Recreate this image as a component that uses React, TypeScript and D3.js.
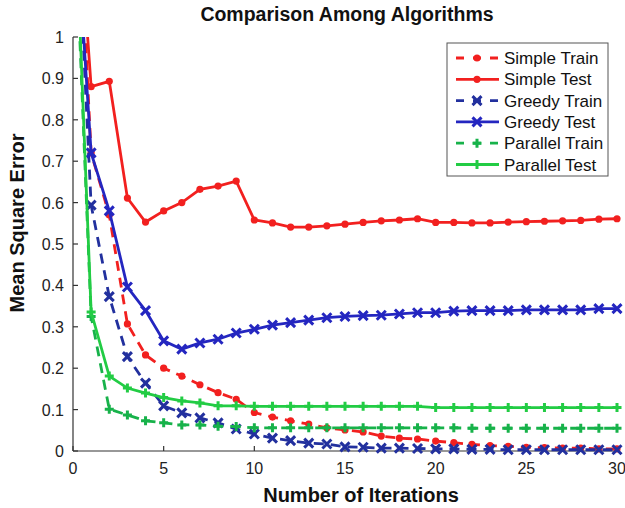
import React from 'react';
import * as d3 from 'd3';

// iterations 0..30
const iterations = d3.range(0, 31);

const simpleTrain = [1.6, 0.72, 0.57, 0.307, 0.232, 0.2, 0.181, 0.16, 0.141, 0.125, 0.093, 0.082, 0.073, 0.065, 0.056, 0.051, 0.046, 0.036, 0.031, 0.029, 0.024, 0.02, 0.016, 0.013, 0.011, 0.009, 0.008, 0.007, 0.007, 0.005, 0.005];
const simpleTest = [1.5, 0.88, 0.893, 0.611, 0.553, 0.58, 0.6, 0.632, 0.64, 0.652, 0.558, 0.551, 0.541, 0.541, 0.544, 0.548, 0.552, 0.556, 0.558, 0.561, 0.552, 0.552, 0.551, 0.551, 0.553, 0.554, 0.555, 0.556, 0.557, 0.56, 0.561];
const greedyTrain = [1.5, 0.594, 0.373, 0.228, 0.164, 0.109, 0.092, 0.08, 0.068, 0.053, 0.041, 0.031, 0.025, 0.019, 0.017, 0.01, 0.009, 0.007, 0.007, 0.006, 0.005, 0.005, 0.004, 0.004, 0.003, 0.003, 0.003, 0.003, 0.003, 0.003, 0.003];
const greedyTest = [1.4, 0.72, 0.58, 0.396, 0.339, 0.266, 0.246, 0.261, 0.27, 0.285, 0.294, 0.304, 0.31, 0.316, 0.322, 0.325, 0.327, 0.328, 0.331, 0.334, 0.334, 0.338, 0.339, 0.339, 0.339, 0.341, 0.341, 0.341, 0.341, 0.344, 0.344];
const parallelTrain = [1.4, 0.325, 0.101, 0.087, 0.073, 0.068, 0.063, 0.063, 0.06, 0.059, 0.056, 0.056, 0.056, 0.056, 0.056, 0.056, 0.056, 0.056, 0.056, 0.056, 0.056, 0.056, 0.055, 0.055, 0.055, 0.055, 0.055, 0.055, 0.055, 0.055, 0.055];
const parallelTest = [1.45, 0.336, 0.181, 0.152, 0.14, 0.129, 0.121, 0.116, 0.109, 0.109, 0.108, 0.108, 0.108, 0.108, 0.108, 0.108, 0.108, 0.108, 0.108, 0.108, 0.105, 0.105, 0.105, 0.105, 0.105, 0.105, 0.105, 0.105, 0.105, 0.105, 0.105];

const xTicks = [0, 5, 10, 15, 20, 25, 30];
const yTicks = [0, 0.1, 0.2, 0.3, 0.4, 0.5, 0.6, 0.7, 0.8, 0.9, 1];

type Marker = 'dot' | 'x' | 'plus';
const series: { name: string; values: number[]; color: string; dashed: boolean; marker: Marker }[] = [
  { name: 'Simple Train', values: simpleTrain, color: '#f2201f', dashed: true, marker: 'dot' },
  { name: 'Simple Test', values: simpleTest, color: '#f2201f', dashed: false, marker: 'dot' },
  { name: 'Greedy Train', values: greedyTrain, color: '#22309e', dashed: true, marker: 'x' },
  { name: 'Greedy Test', values: greedyTest, color: '#2426c0', dashed: false, marker: 'x' },
  { name: 'Parallel Train', values: parallelTrain, color: '#17b24a', dashed: true, marker: 'plus' },
  { name: 'Parallel Test', values: parallelTest, color: '#22cc44', dashed: false, marker: 'plus' },
];

const W = 625;
const H = 508;
const m = { left: 73, right: 617, top: 37, bottom: 451 };
const font = '"Liberation Sans", Arial, sans-serif';

const MarkerShape = ({ type, x, y, color }: { type: Marker; x: number; y: number; color: string }) => {
  if (type === 'dot') return <circle cx={x} cy={y} r={3.6} fill={color} />;
  const s = 4.5;
  if (type === 'x')
    return (
      <path d={`M${x - s},${y - s}L${x + s},${y + s}M${x - s},${y + s}L${x + s},${y - s}`} stroke={color} strokeWidth={3} />
    );
  return <path d={`M${x - s},${y}L${x + s},${y}M${x},${y - s}L${x},${y + s}`} stroke={color} strokeWidth={3} />;
};

export default function App() {
  const x = d3.scaleLinear().domain([0, 30]).range([m.left, m.right]);
  const y = d3.scaleLinear().domain([0, 1]).range([m.bottom, m.top]);
  const line = d3
    .line<number>()
    .x((_, i) => x(iterations[i]))
    .y((d) => y(d));

  const legX = 447;
  const legY = 43;
  const rowH = 21.3;

  return (
    <svg width={W} height={H} style={{ position: 'absolute', left: 0, top: 0 }} fontFamily={font}>
      <rect width={W} height={H} fill="#fff" />
      <defs>
        <clipPath id="plot">
          <rect x={m.left - 6} y={m.top} width={m.right - m.left + 12} height={m.bottom - m.top + 6} />
        </clipPath>
      </defs>
      <text x={347} y={21} textAnchor="middle" fontSize={19.5} fontWeight="bold" fill="#111">
        Comparison Among Algorithms
      </text>

      {/* axes */}
      <g stroke="#333" strokeWidth={1.2} fill="none">
        <line x1={m.left} x2={m.left} y1={m.top} y2={m.bottom} />
        <line x1={m.left} x2={m.right} y1={m.bottom} y2={m.bottom} />
        {yTicks.map((t) => (
          <line key={t} x1={m.left} x2={m.left + 5} y1={y(t)} y2={y(t)} />
        ))}
        {xTicks.map((t) => (
          <line key={t} x1={x(t)} x2={x(t)} y1={m.bottom} y2={m.bottom - 5} />
        ))}
      </g>
      {yTicks.map((t) => (
        <text key={t} x={m.left - 9} y={y(t) + 6} textAnchor="end" fontSize={16} fill="#222">
          {d3.format('~g')(t)}
        </text>
      ))}
      {xTicks.map((t) => (
        <text key={t} x={x(t)} y={m.bottom + 23} textAnchor="middle" fontSize={16} fill="#222">
          {t}
        </text>
      ))}
      <text x={361} y={502} textAnchor="middle" fontSize={20} fontWeight="bold" fill="#111">
        Number of Iterations
      </text>
      <text transform={`translate(24,${223}) rotate(-90)`} textAnchor="middle" fontSize={20} fontWeight="bold" fill="#111">
        Mean Square Error
      </text>

      <g clipPath="url(#plot)">
        {series.map((s) => (
          <g key={s.name}>
            <path d={line(s.values) ?? ''} fill="none" stroke={s.color} strokeWidth={2.8} strokeDasharray={s.dashed ? '10,7' : undefined} />
            {s.values.map((v, i) =>
              v <= 1 ? <MarkerShape key={i} type={s.marker} x={x(iterations[i])} y={y(v)} color={s.color} /> : null
            )}
          </g>
        ))}
      </g>

      {/* legend */}
      <rect x={legX} y={legY} width={161} height={133} fill="#fff" stroke="#555" strokeWidth={1} />
      {series.map((s, i) => {
        const cy = legY + 15 + i * rowH;
        return (
          <g key={s.name}>
            <line x1={legX + 9} x2={legX + 52} y1={cy} y2={cy} stroke={s.color} strokeWidth={2.8} strokeDasharray={s.dashed ? '8,9' : undefined} />
            <MarkerShape type={s.marker} x={legX + 30} y={cy} color={s.color} />
            <text x={legX + 57} y={cy + 6} fontSize={17} fill="#111">
              {s.name}
            </text>
          </g>
        );
      })}
    </svg>
  );
}
